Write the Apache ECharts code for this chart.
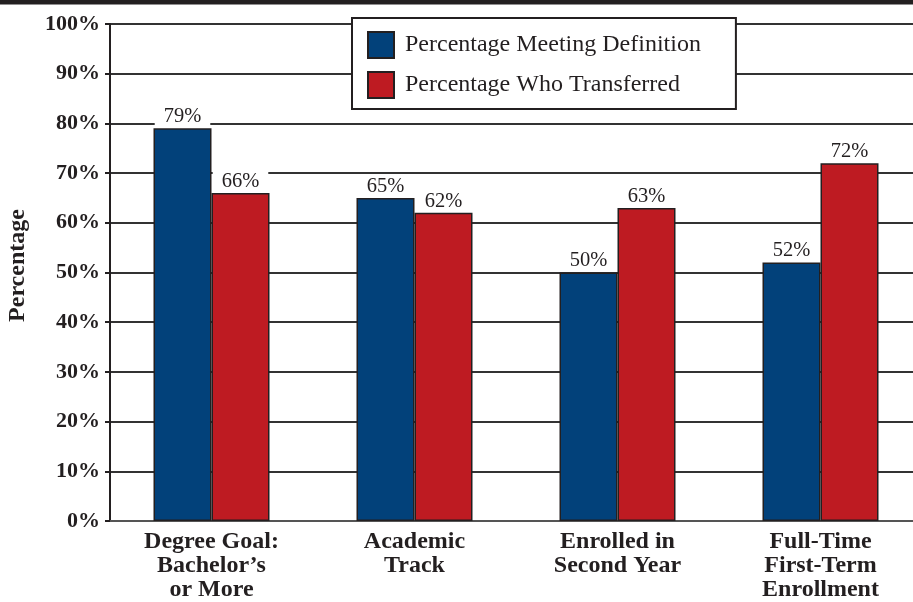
<!DOCTYPE html>
<html>
<head>
<meta charset="utf-8">
<style>
  html, body { margin: 0; padding: 0; background: #fff; }
  #chart { width: 913px; height: 602px; }
</style>
<script src="https://cdn.jsdelivr.net/npm/echarts@6/dist/echarts.min.js"></script>
</head>
<body>
<div id="chart"></div>
<script>
// Transfer indicators: share of students meeting each definition vs. share who transferred
const categories = [
  'Degree Goal:\nBachelor\u2019s\nor More',
  'Academic\nTrack',
  'Enrolled in\nSecond Year',
  'Full-Time\nFirst-Term\nEnrollment'
];
const meetingDefinition = [79, 65, 50, 52];
const whoTransferred = [66, 62, 63, 72];
const seriesNames = ['Percentage Meeting Definition', 'Percentage Who Transferred'];
const yTicks = [0, 10, 20, 30, 40, 50, 60, 70, 80, 90, 100];

const serif = '"Liberation Serif", "DejaVu Serif", serif';
const ink = '#231f20';

const chart = echarts.init(document.getElementById('chart'), null, { renderer: 'canvas' });

const valueLabel = {
  show: true,
  position: 'top',
  distance: 1,
  formatter: p => p.value + '%',
  fontFamily: serif,
  fontSize: 20.5,
  color: ink,
  backgroundColor: '#fff',
  padding: [1, 9, 0, 9]
};

chart.setOption({
  animation: false,
  textStyle: { fontFamily: serif },
  graphic: [{
    type: 'rect',
    shape: { x: 0, y: 0, width: 913, height: 4.5 },
    style: { fill: ink },
    z: 100
  }],
  // the category band runs slightly past the right edge of the canvas
  grid: {
    left: 110, right: -9, top: 24, bottom: 81,
    containLabel: false, outerBoundsMode: 'none'
  },
  legend: {
    data: seriesNames,
    orient: 'vertical',
    left: 352,
    top: 18,
    itemWidth: 26,
    itemHeight: 26,
    itemGap: 12,
    padding: [13, 35, 10, 15],
    borderColor: ink,
    borderWidth: 2,
    backgroundColor: '#fff',
    icon: 'rect',
    textStyle: { fontFamily: serif, fontSize: 24, color: ink, padding: [0, 0, 0, 6] },
    z: 10
  },
  xAxis: {
    type: 'category',
    data: categories,
    axisLine: { show: true, lineStyle: { color: '#555', width: 2 } },
    axisTick: { show: false },
    axisLabel: {
      interval: 0,
      margin: 9,
      fontFamily: serif,
      fontWeight: 'bold',
      fontSize: 24,
      lineHeight: 24,
      color: ink
    }
  },
  yAxis: {
    type: 'value',
    min: 0,
    max: 100,
    interval: 10,
    name: 'Percentage',
    nameLocation: 'middle',
    nameGap: 80,
    nameRotate: 90,
    nameTextStyle: {
      fontFamily: serif, fontWeight: 'bold', fontSize: 24, color: ink,
      padding: [0, 0, 0, 14]
    },
    axisLine: { show: true, lineStyle: { color: ink, width: 2 } },
    axisTick: { show: true, length: 5, lineStyle: { color: ink, width: 2 } },
    axisLabel: {
      margin: 10,
      fontFamily: serif,
      fontWeight: 'bold',
      fontSize: 22,
      color: ink,
      formatter: v => (yTicks.indexOf(v) >= 0 ? v + '%' : '')
    },
    splitLine: { show: true, lineStyle: { color: '#333', width: 2 } }
  },
  series: [
    {
      name: seriesNames[0],
      type: 'bar',
      data: meetingDefinition,
      barWidth: 58,
      barGap: '0%',
      itemStyle: { color: '#02417a', borderColor: ink, borderWidth: 1.5 },
      label: valueLabel,
      z: 3
    },
    {
      name: seriesNames[1],
      type: 'bar',
      data: whoTransferred,
      barWidth: 58,
      barGap: '0%',
      itemStyle: { color: '#be1b22', borderColor: ink, borderWidth: 1.5 },
      label: valueLabel,
      z: 3
    }
  ]
});
</script>
</body>
</html>
